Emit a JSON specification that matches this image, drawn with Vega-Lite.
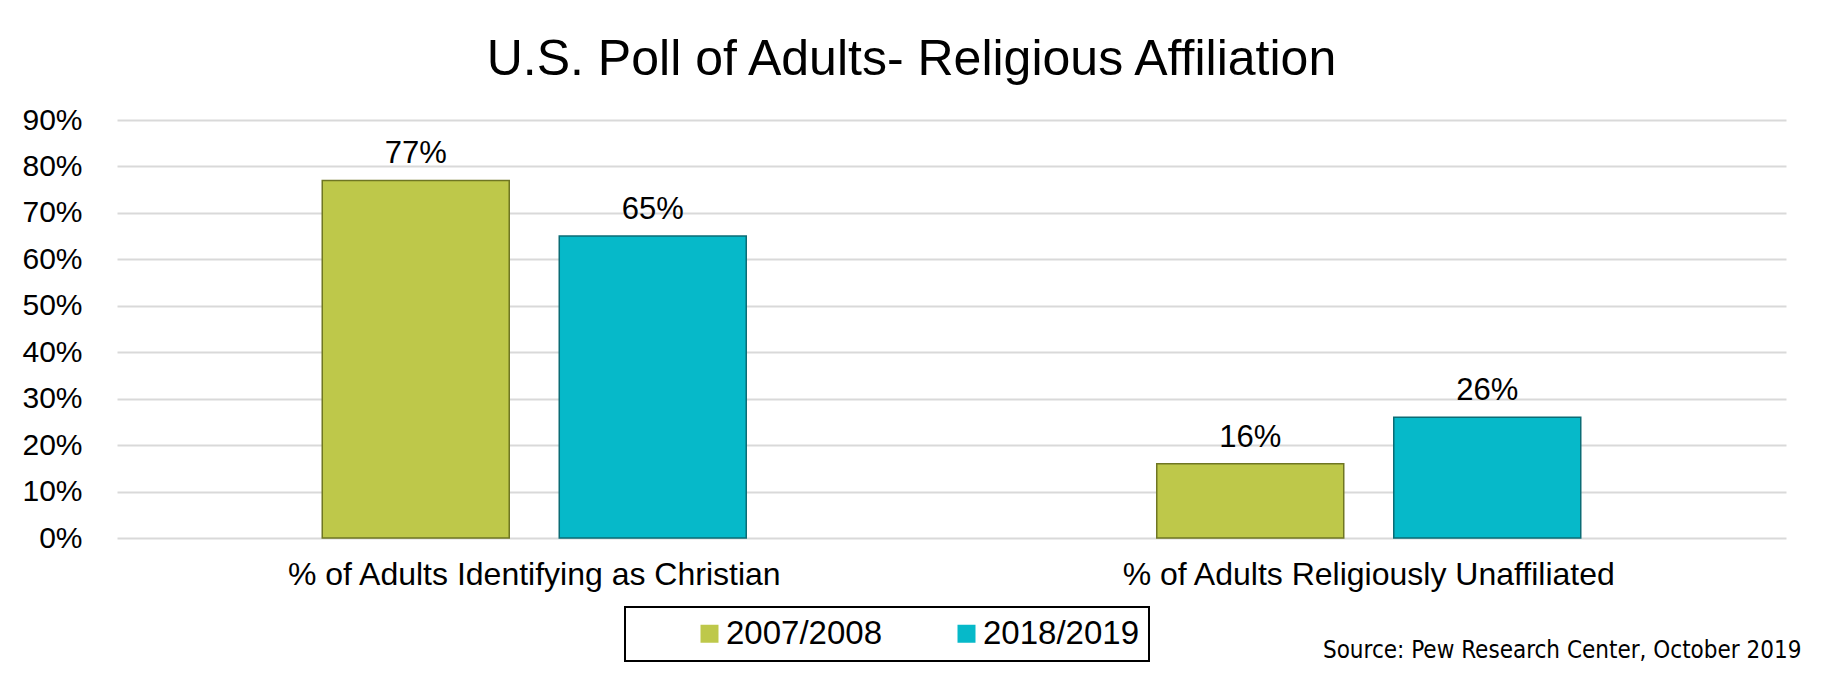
{
  "$schema": "https://vega.github.io/schema/vega-lite/v6.json",
  "width": 1669,
  "height": 418,
  "padding": {"left": 21, "top": 35, "right": 36, "bottom": 5},
  "background": "white",
  "title": {
    "text": "U.S. Poll of Adults- Religious Affiliation",
    "font": "Liberation Sans",
    "fontSize": 50,
    "fontWeight": "normal",
    "color": "black",
    "anchor": "middle",
    "frame": "bounds",
    "offset": 20
  },
  "data": {
    "values": [
      {"category": "% of Adults Identifying as Christian", "period": "2007/2008", "share": 0.77},
      {"category": "% of Adults Identifying as Christian", "period": "2018/2019", "share": 0.65},
      {"category": "% of Adults Religiously Unaffiliated", "period": "2007/2008", "share": 0.16},
      {"category": "% of Adults Religiously Unaffiliated", "period": "2018/2019", "share": 0.26}
    ]
  },
  "encoding": {
    "x": {
      "field": "category",
      "type": "nominal",
      "sort": null,
      "scale": {"paddingInner": 0, "paddingOuter": 0},
      "axis": {
        "labelFont": "Liberation Sans",
        "labelFontSize": 32,
        "labelColor": "black",
        "labelPadding": 21,
        "labelAngle": 0,
        "labelLimit": 1000,
        "ticks": false,
        "domain": false,
        "grid": false,
        "title": "Source: Pew Research Center, October 2019",
        "titleFont": "DejaVu Sans Condensed",
        "titleFontSize": 24,
        "titleFontWeight": "normal",
        "titleColor": "black",
        "titleX": 1684,
        "titleY": 119,
        "titleAlign": "right",
        "titleAnchor": "end",
        "titleBaseline": "alphabetic"
      }
    },
    "xOffset": {
      "field": "period",
      "type": "nominal",
      "scale": {"paddingInner": 0.211, "paddingOuter": 0.866}
    },
    "y": {
      "field": "share",
      "type": "quantitative",
      "scale": {"domain": [0, 0.9]},
      "axis": {
        "format": ".0%",
        "values": [0, 0.1, 0.2, 0.3, 0.4, 0.5, 0.6, 0.7, 0.8, 0.9],
        "labelFont": "Liberation Sans",
        "labelFontSize": 30,
        "labelColor": "black",
        "labelPadding": 35,
        "ticks": false,
        "domain": false,
        "gridColor": "#d9d9d9",
        "gridWidth": 2,
        "title": null
      }
    }
  },
  "layer": [
    {
      "mark": {"type": "bar", "strokeWidth": 1.5},
      "encoding": {
        "color": {
          "field": "period",
          "type": "nominal",
          "scale": {"domain": ["2007/2008", "2018/2019"], "range": ["#bec84a", "#06b9c9"]},
          "legend": {
            "orient": "none",
            "legendX": 508,
            "legendY": 487,
            "direction": "horizontal",
            "title": null,
            "strokeColor": "black",
            "padding": 10,
            "symbolType": "square",
            "symbolSize": 324,
            "symbolStrokeWidth": 0,
            "symbolOffset": 58,
            "labelFont": "Liberation Sans",
            "labelFontSize": 33,
            "labelColor": "black",
            "labelOffset": 0,
            "labelLimit": 400,
            "columnPadding": 10,
            "labelExpr": "datum.value == '2018/2019' ? '2018/2019\u00a0\u00a0\u00a0\u00a0\u00a0\u00a0' : datum.label"
          }
        },
        "stroke": {
          "field": "period",
          "type": "nominal",
          "scale": {"domain": ["2007/2008", "2018/2019"], "range": ["#6f7623", "#0b6c75"]},
          "legend": null
        }
      }
    },
    {
      "mark": {
        "type": "text",
        "font": "Liberation Sans",
        "fontSize": 31,
        "color": "black",
        "baseline": "alphabetic",
        "dy": -17
      },
      "encoding": {
        "text": {"field": "share", "type": "quantitative", "format": ".0%"}
      }
    }
  ],
  "config": {
    "view": {"stroke": null},
    "legend": {"strokeWidth": 2}
  }
}
